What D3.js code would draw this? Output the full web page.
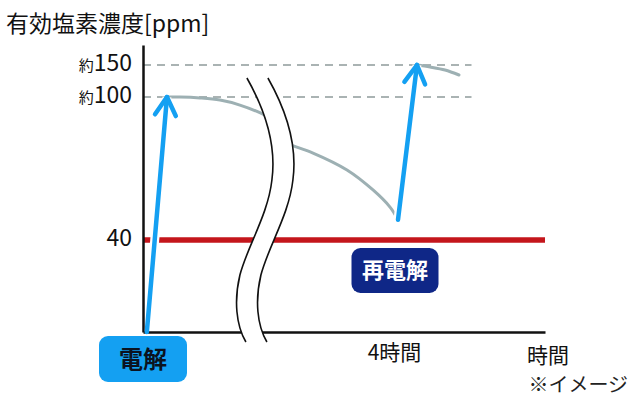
<!DOCTYPE html>
<html><head><meta charset="utf-8">
<script src="https://cdn.jsdelivr.net/npm/d3@7"></script>
<style>
body{margin:0;background:#fff}
svg{display:block;font-family:"Noto Sans CJK JP","Noto Sans",sans-serif}
</style>
</head><body><svg id="c" width="640" height="400"></svg>
<script>
// ---- data ----
const yAxisTitle = "有効塩素濃度[ppm]";
const xAxisTitle = "時間";
const yTicks = [40, 100, 150];
const yTickPrefix = ["", "約", "約"];
const guideValues = [100, 150];
const thresholdValue = 40;
const xTicks = [4];
const xTickLabels = ["4時間"];
// decay before the time break
const decay1T   = [0.376, 0.58, 0.894, 1.208, 1.52, 1.914, 2.1];
const decay1PPM = [100, 100, 99.6, 98.7, 96.6, 92.4, 89.5];
// decay after the time break
const decay2T   = [2.2, 2.369, 2.667, 3.2, 3.608, 3.875, 4.0];
const decay2PPM = [81.0, 79.4, 76.5, 69.4, 61.0, 53.8, 48.5];
// after re-electrolysis
const afterT   = [4.129, 4.218, 4.32, 4.415];
const afterPPM = [150, 146.9, 142.2, 134.4];
const arrowFromT = [0.06, 4.0];
const arrowFromPPM = [0, 48.5];
const arrowToT = [0.376, 4.129];
const arrowToPPM = [100, 150];
const eventLabels = ["電解", "再電解"];
const eventT = [0, 4];
const breakT = 1.63;
const note = "※イメージ";

const FONT = '"Noto Sans CJK JP","Noto Sans",sans-serif';

// ---- scales ----
const svg = d3.select("#c");
const x = d3.scaleLinear().domain([0, 4, 5]).range([143, 398, 545]);
const y = d3.scaleLinear().domain([0, 40, 100, 150, 180]).range([332, 240, 97, 65, 45]);

// guides
svg.append("g").selectAll("line").data(guideValues).join("line")
  .attr("x1", x(0)).attr("x2", x(4.5)).attr("y1", d => y(d)).attr("y2", d => y(d))
  .attr("stroke", "#8e9a9a").attr("stroke-width", 1.5).attr("stroke-dasharray", "8,6");

// threshold
svg.append("line").attr("x1", x(0)).attr("x2", x(5))
  .attr("y1", y(thresholdValue)).attr("y2", y(thresholdValue))
  .attr("stroke", "#c4161c").attr("stroke-width", 5.5);

// grey curves
const line = d3.line().x(d => x(d[0])).y(d => y(d[1])).curve(d3.curveCatmullRom);
const zip = (a, b) => a.map((t, i) => [t, b[i]]);
[zip(decay1T, decay1PPM), zip(decay2T, decay2PPM), zip(afterT, afterPPM)].forEach(s =>
  svg.append("path").attr("d", line(s))
    .attr("fill", "none").attr("stroke", "#9db0b3").attr("stroke-width", 3).attr("stroke-linecap", "round"));

// arrows data
const arrows = arrowFromT.map((t, i) => ({x1: x(t), y1: y(arrowFromPPM[i]), x2: x(arrowToT[i]), y2: y(arrowToPPM[i])}));

// halo under arrows
svg.append("g").selectAll("line").data(arrows).join("line")
  .attr("x1", d => d.x1).attr("y1", d => d.y1).attr("x2", d => d.x2).attr("y2", d => d.y2)
  .attr("stroke", "#fff").attr("stroke-width", 9);

// axes
const yAxis = svg.append("g").attr("transform", `translate(${x(0)},0)`)
  .call(d3.axisLeft(y).tickValues(yTicks).tickSize(0).tickPadding(11))
  .attr("font-family", FONT).attr("font-size", null);
yAxis.select(".domain").attr("stroke", "#111").attr("stroke-width", 2.5);
yAxis.selectAll(".tick text").each(function(d) {
  const i = yTicks.indexOf(d);
  const t = d3.select(this).text("").attr("fill", "#111").attr("font-family", FONT);
  if (yTickPrefix[i]) t.append("tspan").attr("font-size", 15).text(yTickPrefix[i]);
  t.append("tspan").attr("font-size", 23).text(String(d));
});
const xAxis = svg.append("g").attr("transform", `translate(0,${y(0)})`)
  .call(d3.axisBottom(x).tickValues(xTicks).tickSize(0).tickPadding(13).tickFormat((d, i) => xTickLabels[i]))
  .attr("font-family", FONT).attr("font-size", null);
xAxis.select(".domain").attr("stroke", "#111").attr("stroke-width", 2.5);
xAxis.selectAll(".tick text").attr("font-size", 21).attr("fill", "#111").attr("dx", -4);
svg.append("text").attr("x", x(5) + 3).attr("y", y(0) + 31).attr("text-anchor", "middle")
  .attr("font-size", 21).attr("fill", "#111").text(xAxisTitle);

// axis break
const bx = x(breakT);
const segs = [[0,78],[21,115],[29,150],[25,180],[21,215],[1,245],[-7,275],[-13,300],[-11,325],[-1,342]];
function pathFwd(off) {
  const p = segs.map(s => [bx + s[0] + off, s[1]]);
  return `M${p[0]}C${p[1]} ${p[2]} ${p[3]}C${p[4]} ${p[5]} ${p[6]}C${p[7]} ${p[8]} ${p[9]}`;
}
function pathRev(off) {
  const p = segs.map(s => [bx + s[0] + off, s[1]]).reverse();
  return `L${p[0]}C${p[1]} ${p[2]} ${p[3]}C${p[4]} ${p[5]} ${p[6]}C${p[7]} ${p[8]} ${p[9]}`;
}
svg.append("path").attr("d", pathFwd(0) + pathRev(21) + "Z").attr("fill", "#fff");
[0, 21].forEach(o => svg.append("path").attr("d", pathFwd(o))
  .attr("fill", "none").attr("stroke", "#111").attr("stroke-width", 1.6));

// blue arrows
const blue = "#14a0f2";
const ag = svg.append("g").attr("stroke", blue).attr("stroke-width", 4.5).attr("stroke-linecap", "round")
  .attr("stroke-linejoin", "round").attr("fill", "none");
arrows.forEach(a => {
  ag.append("line").attr("x1", a.x1).attr("y1", a.y1).attr("x2", a.x2).attr("y2", a.y2);
  const ang = Math.atan2(a.y1 - a.y2, a.x1 - a.x2);
  const L = 21, da = 0.52;
  const p1 = [a.x2 + L * Math.cos(ang + da), a.y2 + L * Math.sin(ang + da)];
  const p2 = [a.x2 + L * Math.cos(ang - da), a.y2 + L * Math.sin(ang - da)];
  ag.append("path").attr("d", `M${p1}L${a.x2},${a.y2}L${p2}`);
});

// event labels
const boxes = [
  {w: 88, h: 46, cy: 359, fill: blue, color: "#0b1320", size: 24},
  {w: 87, h: 45, cy: 270.5, fill: "#0f2787", color: "#fff", size: 22}
];
eventLabels.forEach((lab, i) => {
  const b = boxes[i], cx = x(eventT[i]) + (i ? -3 : 0);
  svg.append("rect").attr("x", cx - b.w / 2).attr("y", b.cy - b.h / 2).attr("width", b.w).attr("height", b.h)
    .attr("rx", 9).attr("fill", b.fill);
  svg.append("text").attr("x", cx).attr("y", b.cy).attr("dy", "0.36em").attr("text-anchor", "middle")
    .attr("font-size", b.size).attr("font-weight", 700).attr("fill", b.color).text(lab);
});

// title & note
svg.append("text").attr("x", 6).attr("y", 32).attr("font-size", 23).attr("fill", "#111").text(yAxisTitle);
svg.append("text").attr("x", 628).attr("y", 392).attr("text-anchor", "end").attr("font-size", 20).attr("fill", "#222").text(note);
</script>
</body></html>
